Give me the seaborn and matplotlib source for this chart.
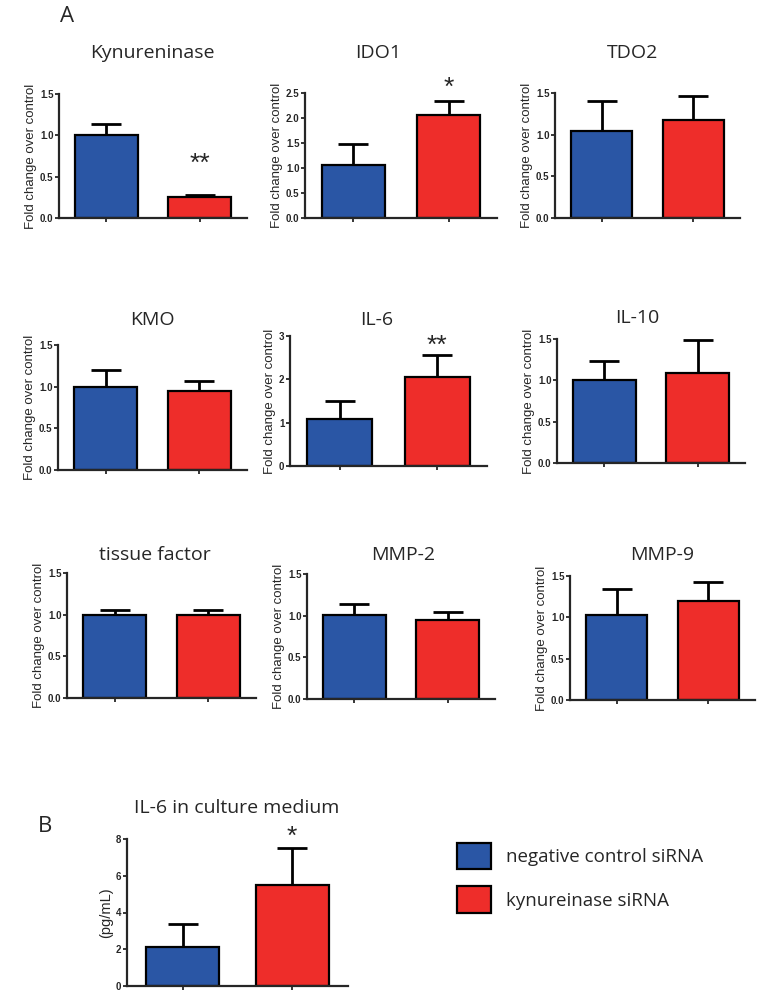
import numpy as np
import pandas as pd
import seaborn as sns
import matplotlib.pyplot as plt
from matplotlib.patches import Patch

sns.set_style("ticks")
plt.rcParams['font.family'] = ['Liberation Sans', 'DejaVu Sans']

# Datos
genes = ["Kynureninase", "IDO1", "TDO2", "KMO", "IL-6", "IL-10",
         "tissue factor", "MMP-2", "MMP-9"]
ctrl_mean = [1.00, 1.05, 1.04, 1.00, 1.08, 1.00, 1.00, 1.01, 1.03]
ctrl_err = [0.14, 0.42, 0.36, 0.20, 0.42, 0.23, 0.06, 0.13, 0.31]
kynu_mean = [0.25, 2.05, 1.17, 0.95, 2.05, 1.09, 1.00, 0.95, 1.20]
kynu_err = [0.03, 0.28, 0.29, 0.12, 0.51, 0.40, 0.06, 0.09, 0.23]
stars = ["**", "*", "", "", "**", "", "", "", ""]
star_y = [0.66, 2.60, 0, 0, 2.77, 0, 0, 0, 0]
y_max = [1.5, 2.5, 1.5, 1.5, 3, 1.5, 1.5, 1.5, 1.5]
y_step = [0.5, 0.5, 0.5, 0.5, 1, 0.5, 0.5, 0.5, 0.5]

# Panel B
medium_mean = [2.1, 5.5]
medium_err = [1.3, 2.0]

groups = ["negative control siRNA", "kynureinase siRNA"]
colors = ["#2a56a5", "#ee2d2a"]

W, H = 764, 1005
fig = plt.figure(figsize=(W / 100, H / 100), dpi=100)

# (left, top, right, bottom) en pixeles
boxes = [(59, 94, 247, 218), (305, 93, 497, 218), (555, 93, 740, 218),
         (58, 345, 247, 470), (290, 336, 487, 466), (557, 339, 745, 463),
         (67, 573, 256, 698), (307, 574, 495, 699), (570, 576, 755, 700)]
title_pos = [(152, 53), (378, 53), (633, 53),
             (152, 320), (377, 320), (637, 318),
             (155, 555), (403, 555), (662, 555)]


def add_ax(box):
    l, t, r, b = box
    return fig.add_axes([l / W, 1 - b / H, (r - l) / W, (b - t) / H])


def bar_panel(ax, means, errs, ymax, ystep, fmt, ylabel):
    df = pd.DataFrame({"group": groups, "value": means})
    sns.barplot(data=df, x="group", y="value", hue="group", palette=colors,
                saturation=1, width=0.67, edgecolor="black", linewidth=1.6,
                errorbar=None, legend=False, ax=ax)
    ax.errorbar(range(len(means)), means, yerr=[np.zeros(len(errs)), errs],
                fmt="none", ecolor="black", elinewidth=2.0, capsize=11,
                capthick=2.0, zorder=0)
    ax.set_xlim(-0.51, 1.51)
    ax.set_ylim(0, ymax)
    ticks = np.arange(0, ymax + ystep / 2, ystep)
    ax.set_yticks(ticks)
    ax.set_yticklabels([fmt.format(v) for v in ticks],
                       fontsize=7, fontweight="bold")
    ax.set_xticks([0, 1])
    ax.set_xticklabels([])
    ax.set_xlabel("")
    ax.set_ylabel(ylabel, fontsize=9.5, labelpad=2)
    ax.tick_params(axis="both", length=3, width=1.3, pad=1)
    for s in ["left", "bottom"]:
        ax.spines[s].set_linewidth(1.6)
    sns.despine(ax=ax)


for i, g in enumerate(genes):
    ax = add_ax(boxes[i])
    fmt = "{:.0f}" if y_step[i] >= 1 else "{:.1f}"
    bar_panel(ax, [ctrl_mean[i], kynu_mean[i]], [ctrl_err[i], kynu_err[i]],
              y_max[i], y_step[i], fmt, "Fold change over control")
    if stars[i]:
        ax.text(1, star_y[i], stars[i], ha="center", va="center",
                fontsize=19, clip_on=False)
    fig.text(title_pos[i][0] / W, 1 - title_pos[i][1] / H, g,
             ha="center", va="center", fontsize=14, family="Open Sans")

# Panel B
axb = add_ax((127, 839, 348, 986))
bar_panel(axb, medium_mean, medium_err, 8, 2, "{:.0f}", "(pg/mL)")
axb.yaxis.label.set_fontsize(10.5)
axb.text(1, 8.1, "*", ha="center", va="center", fontsize=19, clip_on=False)
fig.text(237 / W, 1 - 808 / H, "IL-6 in culture medium", ha="center",
         va="center", fontsize=14, family="Open Sans")

fig.text(60 / W, 1 - 17 / H, "A", ha="left", va="center", fontsize=16,
         family="Open Sans")
fig.text(38 / W, 1 - 826 / H, "B", ha="left", va="center", fontsize=16,
         family="Open Sans")

handles = [Patch(facecolor=c, edgecolor="black", linewidth=1.6) for c in colors]
fig.legend(handles, groups, loc="upper left",
           bbox_to_anchor=(440 / W, 1 - 826 / H), frameon=False,
           prop={"family": "Open Sans", "size": 13.5},
           handlelength=1.8, handleheight=1.8, labelspacing=0.9,
           handletextpad=0.8)

plt.savefig("out.png", dpi=100)
